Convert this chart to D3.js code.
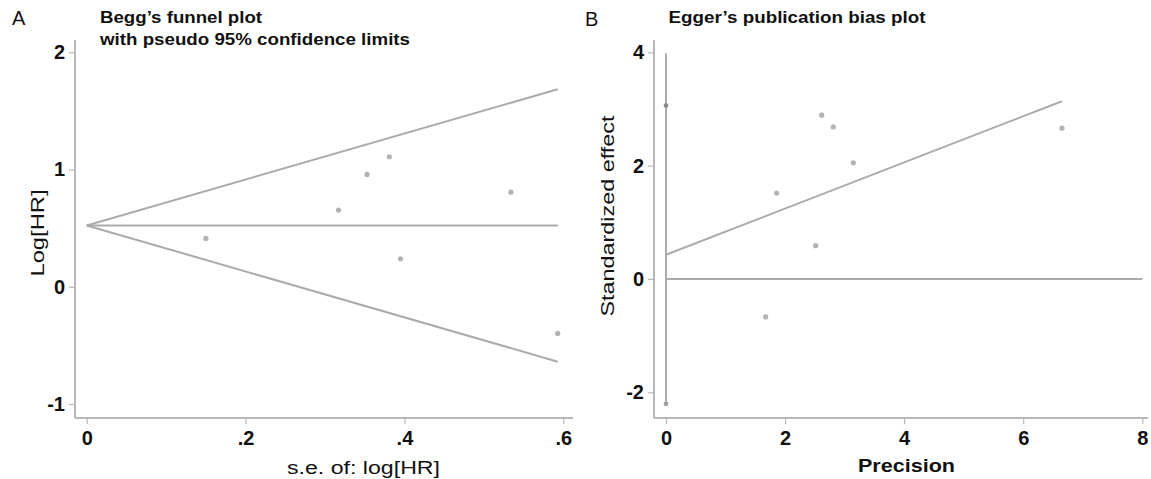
<!DOCTYPE html>
<meta charset="utf-8">
<style>
  body { margin: 0; background: #fff; }
  svg { font-family: "Liberation Sans", Arial, sans-serif; }
  .tick text { font-family: "Liberation Sans", Arial, sans-serif; font-weight: bold; font-size: 20px; fill: #111; }
  .tick line { stroke: #b8b8b8; stroke-width: 1.2px; }
</style>
<script src="https://cdn.jsdelivr.net/npm/d3@7/dist/d3.min.js"></script>
<body>
</body>
<script>

// ---- data ----

// A: Begg's funnel plot
var beggSE    = [0.150, 0.317, 0.353, 0.381, 0.534, 0.395, 0.593];
var beggLogHR = [0.412, 0.654, 0.958, 1.109, 0.807, 0.239, -0.398];
var pooledLogHR = 0.523;
var maxSE = 0.593;
var beggXTicks = [0, 0.2, 0.4, 0.6];
var beggXLabels = ["0", ".2", ".4", ".6"];
var beggYTicks = [-1, 0, 1, 2];

// B: Egger's publication bias plot
var eggerPrecision = [1.859, 2.615, 2.810, 3.146, 6.651, 2.514, 1.674];
var eggerStdEffect = [1.515, 2.890, 2.683, 2.049, 2.661, 0.587, -0.670];
var interceptCI   = [3.059, -2.203];     // markers drawn at precision 0
var interceptLine = [-2.20, 3.98];       // vertical line at precision 0
var eggerFit = [[0, 0.428], [6.651, 3.137]];
var eggerXTicks = [0, 2, 4, 6, 8];
var eggerYTicks = [-2, 0, 2, 4];

const width = 1151, height = 479;
const lineGrey = "#ababab", axisGrey = "#b8b8b8", dotGrey = "#b3b3b3";

var svg = d3.select("body").append("svg")
  .attr("width", width)
  .attr("height", height);

function frame( box) {
  // stata-like axis lines along left and bottom of the plot region
  svg.append("line")
    .attr("x1", box.left).attr("x2", box.left)
    .attr("y1", box.top).attr("y2", box.bottom)
    .attr("stroke", axisGrey).attr("stroke-width", 2);
  svg.append("line")
    .attr("x1", box.left).attr("x2", box.right)
    .attr("y1", box.bottom).attr("y2", box.bottom)
    .attr("stroke", axisGrey).attr("stroke-width", 2);
}

// plain hyphen minus, like the stata output
var plain = d => String(d);

function axes( box, x, y, xTicks, xFmt, yTicks) {
  svg.append("g")
    .attr("transform", `translate(${box.left},0)`)
    .call( d3.axisLeft(y).tickValues(yTicks).tickSize(6).tickPadding(4).tickFormat(plain))
    .call( g => g.select(".domain").remove());
  svg.append("g")
    .attr("transform", `translate(0,${box.bottom})`)
    .call( d3.axisBottom(x).tickValues(xTicks).tickSize(6).tickPadding(7).tickFormat(xFmt))
    .call( g => g.select(".domain").remove());
}

function label( txt, x, y, opts) {
  var t = svg.append("text")
    .attr("x", x).attr("y", y)
    .attr("font-size", opts.size)
    .attr("font-weight", opts.bold ? "bold" : "normal")
    .attr("fill", "#111")
    .text(txt);
  if ( opts.anchor) t.attr("text-anchor", opts.anchor);
  if ( opts.len) t.attr("textLength", opts.len).attr("lengthAdjust", "spacingAndGlyphs");
  if ( opts.rotate) t.attr("transform", `rotate(-90,${x},${y})`);
  return t;
}

/*======== panel A ========*/

var boxA = { left: 75, right: 573, top: 40, bottom: 418 };
var xA = d3.scaleLinear().domain([0, 0.6]).range([86.7, 563.3]);
var yA = d3.scaleLinear().domain([-1, 2]).range([404, 52.3]);

frame( boxA);
axes( boxA, xA, yA, beggXTicks, (d,i) => beggXLabels[i], beggYTicks);

var funnel = [
  [[0, pooledLogHR], [maxSE, pooledLogHR + 1.96*maxSE]],
  [[0, pooledLogHR], [maxSE, pooledLogHR]],
  [[0, pooledLogHR], [maxSE, pooledLogHR - 1.96*maxSE]]
];
var lineA = d3.line().x(d => xA(d[0])).y(d => yA(d[1]));
svg.append("g").selectAll("path")
  .data(funnel)
  .enter()
  .append("path")
    .attr("d", lineA)
    .attr("fill", "none")
    .attr("stroke", lineGrey)
    .attr("stroke-width", 2);

svg.append("g").selectAll("circle")
  .data(beggSE.map((s,i) => [s, beggLogHR[i]]))
  .enter()
  .append("circle")
    .attr("cx", d => xA(d[0]))
    .attr("cy", d => yA(d[1]))
    .attr("r", 2.6)
    .attr("fill", dotGrey);

label("A", 12, 25, { size: 20 });
label("Begg\u2019s funnel plot", 100, 22.5, { size: 16, bold: true, len: 162 });
label("with pseudo 95% confidence limits", 100, 45, { size: 16, bold: true, len: 310 });
label("s.e. of: log[HR]", 287, 474, { size: 18, len: 153 });
label("Log[HR]", 44, 276.5, { size: 18, len: 87, rotate: true });

/*======== panel B ========*/

var boxB = { left: 654, right: 1148, top: 40, bottom: 418 };
var xB = d3.scaleLinear().domain([0, 8]).range([666, 1142.3]);
var yB = d3.scaleLinear().domain([-2, 4]).range([392.3, 52.3]);

frame( boxB);
axes( boxB, xB, yB, eggerXTicks, plain, eggerYTicks);

var lineB = d3.line().x(d => xB(d[0])).y(d => yB(d[1]));
var guides = [
  [[0, interceptLine[0]], [0, interceptLine[1]]],
  [[0, 0], [8, 0]],
  eggerFit
];
svg.append("g").selectAll("path")
  .data(guides)
  .enter()
  .append("path")
    .attr("d", lineB)
    .attr("fill", "none")
    .attr("stroke", lineGrey)
    .attr("stroke-width", 2);

svg.append("g").selectAll("circle")
  .data(eggerPrecision.map((p,i) => [p, eggerStdEffect[i]]))
  .enter()
  .append("circle")
    .attr("cx", d => xB(d[0]))
    .attr("cy", d => yB(d[1]))
    .attr("r", 2.6)
    .attr("fill", dotGrey);

svg.append("g").selectAll("circle")
  .data(interceptCI)
  .enter()
  .append("circle")
    .attr("cx", xB(0))
    .attr("cy", d => yB(d))
    .attr("r", 2.4)
    .attr("fill", (d,i) => i == 0 ? "#8a8a8a" : "#a0a0a0");

label("B", 585, 25.5, { size: 20 });
label("Egger\u2019s publication bias plot", 668.5, 22.5, { size: 16, bold: true, len: 257 });
label("Precision", 858, 471.5, { size: 19, bold: true, len: 97 });
label("Standardized effect", 614, 316.5, { size: 19, len: 201, rotate: true });

</script>
